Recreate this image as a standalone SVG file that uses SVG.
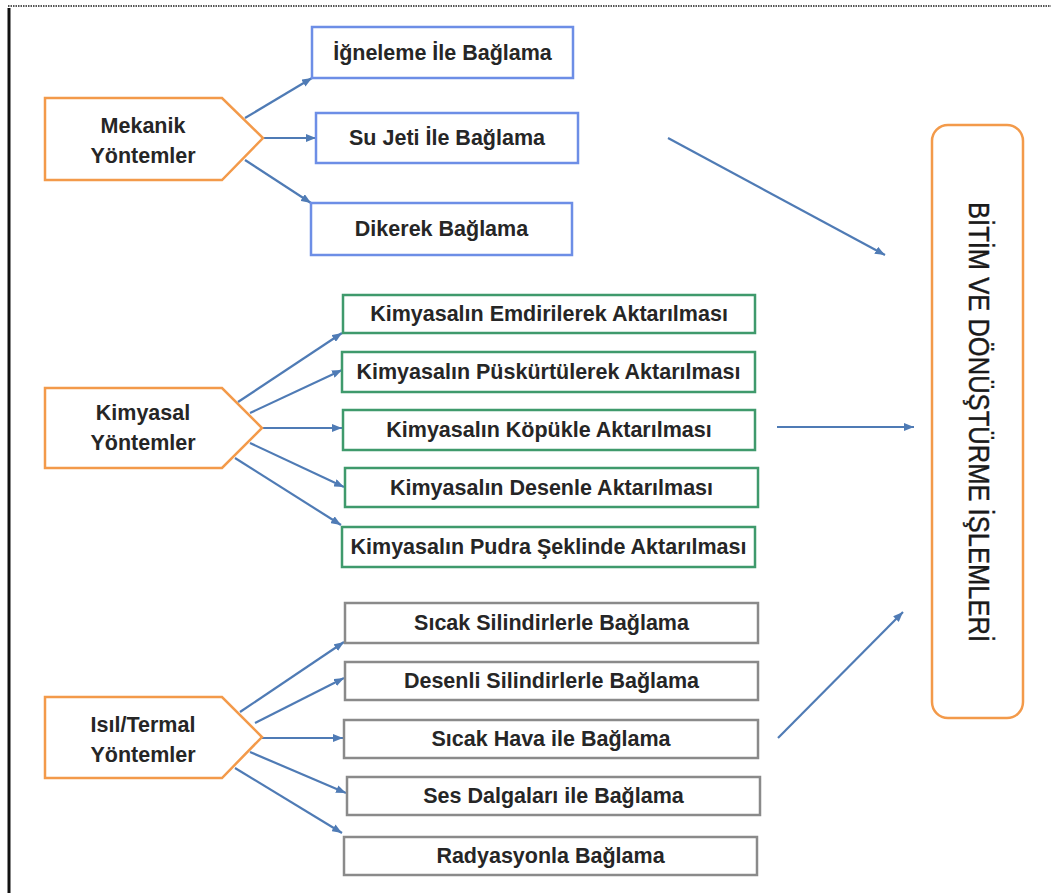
<svg xmlns="http://www.w3.org/2000/svg" width="1051" height="893" viewBox="0 0 1051 893">
<style>
.pent{fill:#ffffff;stroke:#f39a4a;stroke-width:2.5}
.blue{fill:#ffffff;stroke:#6d8ee6;stroke-width:2.5}
.green{fill:#ffffff;stroke:#3f9a6c;stroke-width:2.5}
.gray{fill:#ffffff;stroke:#8a8a8a;stroke-width:2.5}
.t{font-family:"Liberation Sans",Arial,sans-serif;font-weight:bold;font-size:21.5px;fill:#262626;text-anchor:middle}
.c{stroke:#4f7bb5;stroke-width:2.2;fill:none;marker-end:url(#ah)}
</style>
<defs>
<marker id="ah" viewBox="0 0 10 8" refX="10" refY="4" markerWidth="10" markerHeight="8" markerUnits="userSpaceOnUse" orient="auto">
<path d="M0,0 L10,4 L0,8 Z" fill="#4f7bb5"/>
</marker>
</defs>
<rect width="1051" height="893" fill="#ffffff"/>
<g id="frame">
<line x1="8" y1="6" x2="1051" y2="6" stroke="#555" stroke-width="2" stroke-dasharray="1.5,1"/>
<line x1="9" y1="8" x2="9" y2="893" stroke="#111" stroke-width="3"/>
</g>
<g id="connectors">
<line class="c" x1="245" y1="118" x2="312" y2="78"/>
<line class="c" x1="263" y1="138" x2="316" y2="138"/>
<line class="c" x1="245" y1="160" x2="311" y2="203"/>
<line class="c" x1="238" y1="402" x2="342" y2="333"/>
<line class="c" x1="250" y1="413" x2="342" y2="370"/>
<line class="c" x1="262" y1="428" x2="342" y2="428"/>
<line class="c" x1="250" y1="443" x2="344" y2="487"/>
<line class="c" x1="235" y1="458" x2="341" y2="525"/>
<line class="c" x1="240" y1="712" x2="344" y2="642"/>
<line class="c" x1="255" y1="723" x2="344" y2="678"/>
<line class="c" x1="262" y1="738" x2="343" y2="738"/>
<line class="c" x1="250" y1="752" x2="346" y2="793"/>
<line class="c" x1="235" y1="768" x2="342" y2="833"/>
<line class="c" x1="668" y1="138" x2="885" y2="255"/>
<line class="c" x1="777" y1="427" x2="914" y2="427"/>
<line class="c" x1="778" y1="738" x2="903" y2="612"/>
</g>
<g id="mekanik">
<path class="pent" d="M45,98 L222,98 L263,138 L222,180 L45,180 Z"/>
<text class="t" x="143" y="133">Mekanik</text>
<text class="t" x="143" y="163">Yöntemler</text>
</g>
<g id="kimyasal">
<path class="pent" d="M45,388 L222,388 L262,428 L222,468 L45,468 Z"/>
<text class="t" x="143" y="420">Kimyasal</text>
<text class="t" x="143" y="450">Yöntemler</text>
</g>
<g id="isil">
<path class="pent" d="M45,697 L222,697 L262,737 L222,778 L45,778 Z"/>
<text class="t" x="143" y="732">Isıl/Termal</text>
<text class="t" x="143" y="762">Yöntemler</text>
</g>
<g id="igneleme">
<rect class="blue" x="312" y="27" width="261" height="51"/>
<text class="t" x="442.5" y="60">İğneleme İle Bağlama</text>
</g>
<g id="sujeti">
<rect class="blue" x="316" y="113" width="262" height="50"/>
<text class="t" x="447" y="145">Su Jeti İle Bağlama</text>
</g>
<g id="dikerek">
<rect class="blue" x="311" y="203" width="261" height="52"/>
<text class="t" x="441.5" y="236">Dikerek Bağlama</text>
</g>
<g id="emdirilerek">
<rect class="green" x="343" y="295" width="412" height="38"/>
<text class="t" x="549" y="321">Kimyasalın Emdirilerek Aktarılması</text>
</g>
<g id="puskurtulerek">
<rect class="green" x="342" y="352" width="413" height="40"/>
<text class="t" x="548.5" y="379">Kimyasalın Püskürtülerek Aktarılması</text>
</g>
<g id="kopukle">
<rect class="green" x="343" y="410" width="412" height="40"/>
<text class="t" x="549" y="437">Kimyasalın Köpükle Aktarılması</text>
</g>
<g id="desenle">
<rect class="green" x="345" y="468" width="413" height="39"/>
<text class="t" x="551.5" y="495">Kimyasalın Desenle Aktarılması</text>
</g>
<g id="pudra">
<rect class="green" x="342" y="527" width="413" height="40"/>
<text class="t" x="548.5" y="554">Kimyasalın Pudra Şeklinde Aktarılması</text>
</g>
<g id="sicaksilindir">
<rect class="gray" x="345" y="603" width="413" height="40"/>
<text class="t" x="551.5" y="630">Sıcak Silindirlerle Bağlama</text>
</g>
<g id="desenlisilindir">
<rect class="gray" x="345" y="662" width="413" height="38"/>
<text class="t" x="551.5" y="688">Desenli Silindirlerle Bağlama</text>
</g>
<g id="sicakhava">
<rect class="gray" x="344" y="720" width="414" height="38"/>
<text class="t" x="551" y="746">Sıcak Hava ile Bağlama</text>
</g>
<g id="sesdalga">
<rect class="gray" x="347" y="777" width="413" height="38"/>
<text class="t" x="553.5" y="803">Ses Dalgaları ile Bağlama</text>
</g>
<g id="radyasyon">
<rect class="gray" x="344" y="837" width="413" height="38"/>
<text class="t" x="550.5" y="863">Radyasyonla Bağlama</text>
</g>
<g id="bitim">
<rect x="932" y="125" width="91" height="593" rx="16" ry="16" fill="#ffffff" stroke="#f39a4a" stroke-width="2.5"/>
<text transform="translate(969,422) rotate(90)" x="0" y="0" font-family="Liberation Sans, Arial, sans-serif" font-size="29" fill="#1a1a1a" stroke="#1a1a1a" stroke-width="0.4" text-anchor="middle" textLength="440" lengthAdjust="spacingAndGlyphs">BİTİM VE DÖNÜŞTÜRME İŞLEMLERİ</text>
</g>
</svg>
